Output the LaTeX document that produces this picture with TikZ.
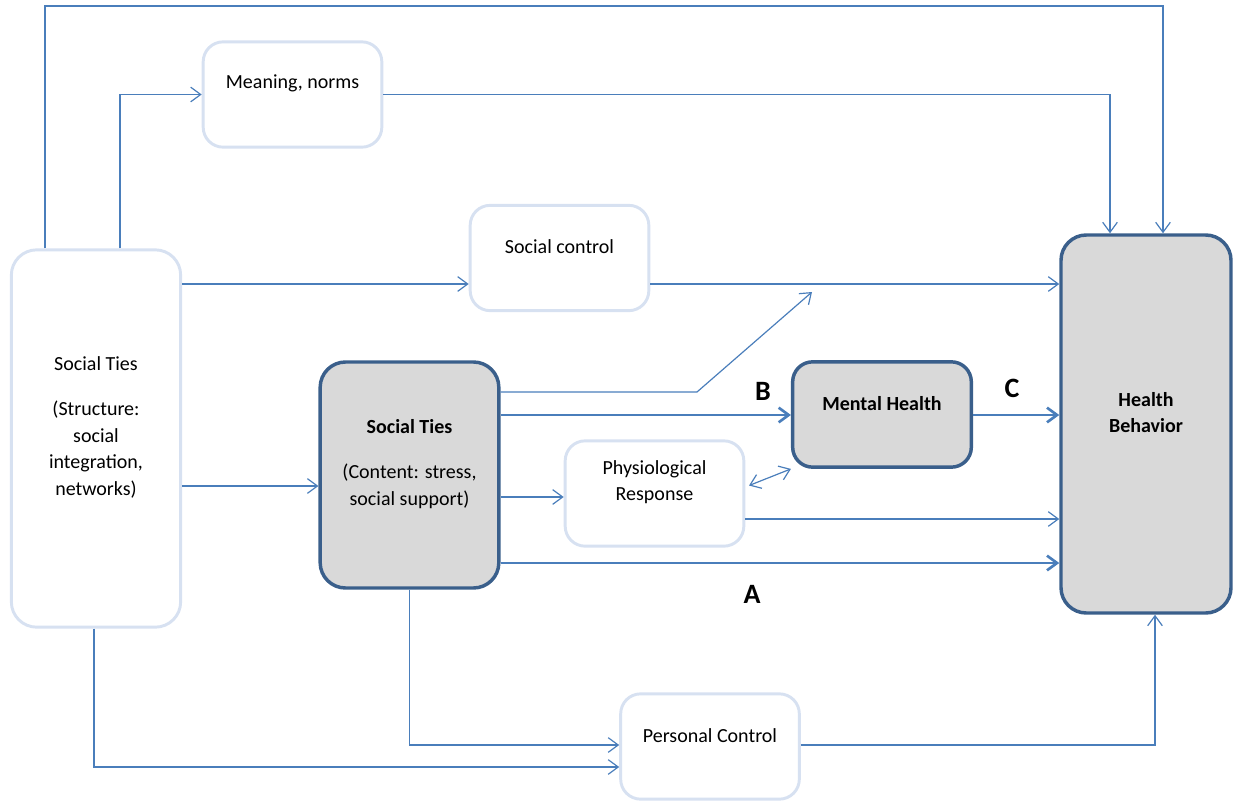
\documentclass[tikz,border=0pt]{standalone}
\usepackage{fontspec}
\setmainfont{Carlito}
\usepackage{xcolor}
\usepackage{tikz}
\usetikzlibrary{positioning}
\usetikzlibrary{arrows.meta}
\definecolor{linkblue}{HTML}{4A7EBB}
\definecolor{lightrim}{HTML}{D7E1F1}
\definecolor{darkrim}{HTML}{3A5F8B}
\definecolor{boxgray}{HTML}{D9D9D9}
\tikzset{edge/.style = {->,> = {Straight Barb[length=7.5pt,width=11pt]}, draw=linkblue, line width=0.9pt}}
\tikzset{bold edge/.style = {edge, line width=2pt}}

\begin{document}
\begin{tikzpicture}[x=0.75pt, y=-0.75pt, font=\fontsize{15}{20}\selectfont,
    main node/.style={draw=lightrim, fill=white, line width=2.2pt, rounded corners=15pt, minimum width=134pt, minimum height=79pt, inner sep=0pt},
    gray node/.style={main node, draw=darkrim, fill=boxgray, line width=2.6pt},
    txt/.style={align=center, yshift=8.5pt},
    letter/.style={font=\fontsize{21}{24}\selectfont\bfseries}]
    \useasboundingbox (0,0) rectangle (1240,803);

    \node[main node, minimum width=127pt, minimum height=283pt, rounded corners=19pt,
        label={[txt]center:{Social Ties\\[14pt](Structure:\\social\\integration,\\networks)}}] (ties) at (96,438.5) {};
    \node[main node, label={[txt]center:{Meaning, norms}}] (meaning) at (292.5,94.5) {};
    \node[main node, label={[txt]center:{Social control}}] (control) at (559.5,258) {};
    \node[gray node, minimum height=169.5pt, rounded corners=19pt,
        label={[txt]center:{\textbf{Social Ties}\\[14pt](Content: stress,\\social support)}}] (content) at (409.5,475) {};
    \node[gray node, label={[txt]center:{\textbf{Mental Health}}}] (mental) at (882,414.5) {};
    \node[main node, label={[txt]center:{Physiological\\Response}}] (physio) at (654.5,493.5) {};
    \node[gray node, minimum width=127.5pt, minimum height=283.5pt, rounded corners=19pt,
        label={[txt]center:{\textbf{Health}\\\textbf{Behavior}}}] (behavior) at (1146,424) {};
    \node[main node, label={[txt]center:{Personal Control}}] (personal) at (710,746.5) {};

    \node[letter] (B) at (763,391) {B};
    \node[letter] (C) at (1012,388) {C};
    \node[letter] (A) at (752,594) {A};
    \coordinate (loose) at (812,292);

    \draw[edge] (ties.north -| 45,0) |- (1163,6) -- (behavior.north -| 1163,0);
    \draw[edge] (ties.north -| 120,0) |- (meaning.west);
    \draw[edge] (meaning.east) -| (behavior.north -| 1110,0);
    \draw[edge] (ties.east |- 0,284) -- (control.west |- 0,284);
    \draw[edge] (control.east |- 0,284) -- (behavior.west |- 0,284);
    \draw[edge] (content.east |- 0,392) -- (697,392) -- (loose);
    \draw[bold edge] (content.east |- 0,415) -- (mental.west |- 0,415);
    \draw[bold edge] (mental.east |- 0,415) -- (behavior.west |- 0,415);
    \draw[edge] (ties.east |- 0,486) -- (content.west |- 0,486);
    \draw[edge] (content.east |- 0,497) -- (physio.west |- 0,497);
    \draw[edge, <->, shorten <=3pt] (physio.east |- 0,487) -- (mental.south west);
    \draw[edge] (physio.east |- 0,519) -- (behavior.west |- 0,519);
    \draw[bold edge] (content.east |- 0,563) -- (behavior.west |- 0,563);
    \draw[edge] (content.south) |- (personal.west |- 0,745);
    \draw[edge] (ties.south -| 94,0) |- (personal.west |- 0,767);
    \draw[edge] (personal.east |- 0,745) -| (behavior.south -| 1155,0);
\end{tikzpicture}
\end{document}
